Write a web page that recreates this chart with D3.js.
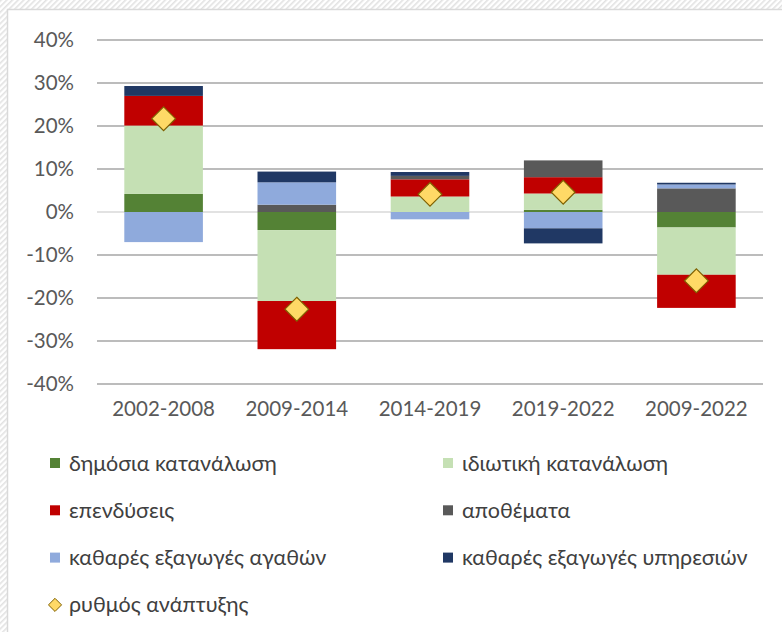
<!DOCTYPE html>
<html>
<head>
<meta charset="utf-8">
<script src="https://cdn.jsdelivr.net/npm/d3@7"></script>
<style>
  body { margin: 0; background: #fff; }
  svg { display: block; }
</style>
</head>
<body>
<div id="chart"></div>
<script>
// data (percent)
var categories = ["2002-2008", "2009-2014", "2014-2019", "2019-2022", "2009-2022"];
var seriesNames = ["δημόσια κατανάλωση", "ιδιωτική κατανάλωση", "επενδύσεις", "αποθέματα",
                   "καθαρές εξαγωγές αγαθών", "καθαρές εξαγωγές υπηρεσιών"];
var publicCons  = [4.2, -4.2, 0.0, 0.5, -3.6];
var privateCons = [15.9, -16.5, 3.6, 3.8, -11.0];
var investment  = [6.9, -11.2, 4.0, 3.8, -7.7];
var inventories = [0.0, 1.7, 0.8, 3.9, 5.5];
var goodsExp    = [-7.0, 5.2, -1.7, -3.8, 0.9];
var servicesExp = [2.3, 2.5, 0.9, -3.5, 0.4];
var growth      = [21.7, -22.6, 4.1, 4.6, -16.0];
var growthName  = "ρυθμός ανάπτυξης";
var yTicks = [-40, -30, -20, -10, 0, 10, 20, 30, 40];

var colors = ["#548235", "#c5e0b4", "#c00000", "#595959", "#8faadc", "#203864"];
var seriesValues = [publicCons, privateCons, investment, inventories, goodsExp, servicesExp];

var width = 782, height = 632;
var font = "Lato, 'Open Sans', sans-serif";

var svg = d3.select("#chart").append("svg")
    .attr("width", width)
    .attr("height", height);

// hatched background outside the chart box
var defs = svg.append("defs");
var pat = defs.append("pattern")
    .attr("id", "hatch")
    .attr("width", 4).attr("height", 4)
    .attr("patternUnits", "userSpaceOnUse")
    .attr("patternTransform", "rotate(-45)");
pat.append("rect").attr("width", 4).attr("height", 4).attr("fill", "#fff");
pat.append("rect").attr("width", 4).attr("height", 1.6).attr("fill", "#e2e2e2");

svg.append("rect").attr("width", width).attr("height", height).attr("fill", "url(#hatch)");
svg.append("rect")
    .attr("x", 7.5).attr("y", 9.5)
    .attr("width", width).attr("height", height)
    .attr("fill", "#fff")
    .attr("stroke", "#d9d9d9")
    .attr("stroke-width", 1.5);

// table for the stack
var table = categories.map(function(c, i) {
  var row = { cat: c };
  seriesNames.forEach(function(s, j) { row[s] = seriesValues[j][i]; });
  return row;
});

var x = d3.scaleBand()
    .domain(categories)
    .range([97, 763])
    .paddingInner(0.41)
    .paddingOuter(0.205);

var y = d3.scaleLinear()
    .domain([-40, 40])
    .range([384, 40]);

// gridlines
svg.append("g")
  .selectAll("line")
  .data(yTicks)
  .enter()
  .append("line")
    .attr("x1", 97).attr("x2", 763)
    .attr("y1", function(d) { return y(d); })
    .attr("y2", function(d) { return y(d); })
    .attr("stroke", function(d) { return d === 0 ? "#d9d9d9" : "#a6a6a6"; })
    .attr("stroke-width", 1.3);

// y axis labels
var yAxis = d3.axisLeft(y)
    .tickValues(yTicks)
    .tickSize(0)
    .tickPadding(0)
    .tickFormat(function(d) { return d + "%"; });

svg.append("g")
    .attr("transform", "translate(74,0)")
    .call(yAxis)
    .call(function(g) { g.select(".domain").remove(); })
    .selectAll("text")
    .attr("font-family", font)
    .attr("font-size", 20.5)
    .attr("fill", "#595959");

// x axis labels
var xAxis = d3.axisBottom(x).tickSize(0).tickPadding(0);
svg.append("g")
    .attr("transform", "translate(0,401)")
    .call(xAxis)
    .call(function(g) { g.select(".domain").remove(); })
    .selectAll("text")
    .attr("font-family", font)
    .attr("font-size", 20.5)
    .attr("fill", "#595959");

// stacked bars
var stack = d3.stack()
    .keys(seriesNames)
    .offset(d3.stackOffsetDiverging);

var layers = svg.append("g")
  .selectAll("g")
  .data(stack(table))
  .enter()
  .append("g")
    .attr("fill", function(d, i) { return colors[i]; });

layers.selectAll("rect")
  .data(function(d) { return d; })
  .enter()
  .append("rect")
    .attr("x", function(d) { return x(d.data.cat); })
    .attr("width", x.bandwidth())
    .attr("y", function(d) { return y(Math.max(d[0], d[1])); })
    .attr("height", function(d) { return Math.abs(y(d[0]) - y(d[1])); });

// growth markers
var diamond = d3.symbol().type(d3.symbolDiamond2).size(360);
svg.append("g")
  .selectAll("path")
  .data(growth)
  .enter()
  .append("path")
    .attr("d", diamond)
    .attr("transform", function(d, i) {
      return "translate(" + (x(categories[i]) + x.bandwidth() / 2) + "," + y(d) + ")";
    })
    .attr("fill", "#ffd966")
    .attr("stroke", "#7f6000")
    .attr("stroke-width", 1.2);

// legend
var legendItems = seriesNames.map(function(s, i) { return { name: s, color: colors[i] }; });
legendItems.push({ name: growthName, marker: true });

var legend = svg.append("g")
  .selectAll("g")
  .data(legendItems)
  .enter()
  .append("g")
    .attr("transform", function(d, i) {
      var col = i % 2, row = Math.floor(i / 2);
      return "translate(" + (col === 0 ? 50 : 443) + "," + (463 + row * 47.3) + ")";
    });

legend.filter(function(d) { return !d.marker; })
  .append("rect")
    .attr("x", 0).attr("y", -5)
    .attr("width", 10).attr("height", 10)
    .attr("fill", function(d) { return d.color; });

legend.filter(function(d) { return d.marker; })
  .append("path")
    .attr("d", d3.symbol().type(d3.symbolDiamond2).size(110))
    .attr("transform", "translate(5,0)")
    .attr("fill", "#ffd966")
    .attr("stroke", "#7f6000")
    .attr("stroke-width", 1);

legend.append("text")
    .attr("x", 19)
    .attr("dy", "0.35em")
    .attr("font-family", font)
    .attr("font-size", 21.5)
    .attr("fill", "#404040")
    .text(function(d) { return d.name; });
</script>
</body>
</html>
